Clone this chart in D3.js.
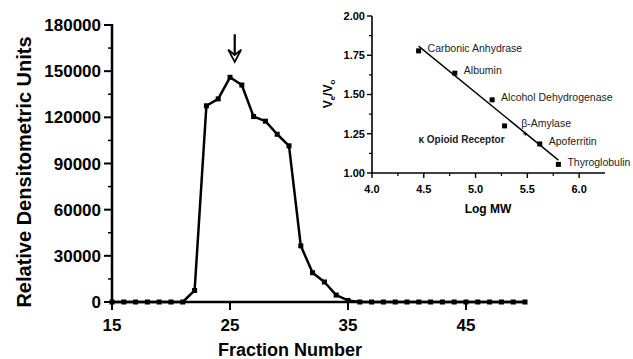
<!DOCTYPE html>
<html>
<head>
<meta charset="utf-8">
<script src="https://cdn.jsdelivr.net/npm/d3@7"></script>
<style>
  body { margin: 0; background: #fff; }
  svg { display: block; font-family: "Liberation Sans", Arial, Helvetica, sans-serif; }
</style>
</head>
<body>
<svg id="chart" width="633" height="359"></svg>
<script>
// Main chart: fraction number vs densitometric signal
const fractions = d3.range(15, 51);
const densities = [
  0, 0, 0, 0, 0, 0, 0,          // 15-21
  7500, 127500, 132000, 146000, 141000, 120500, 117500, 109000, 101500, // 22-30
  36500, 19000, 13000, 4500, 1000, // 31-35
  0, 0, 0, 0, 0, 0, 0, 0, 0, 0, 0, 0, 0, 0, 0 // 36-50
];
const yTicks = [0, 30000, 60000, 90000, 120000, 150000, 180000];
const xTicks = [15, 25, 35, 45];
const peakFraction = 25.4;

// Inset: calibration standards
const standards = ["Carbonic Anhydrase", "Albumin", "Alcohol Dehydrogenase", "\u03b2-Amylase", "Apoferritin", "Thyroglobulin"];
const logMW = [4.45, 4.80, 5.16, 5.48, 5.62, 5.80];
const veVo = [1.778, 1.636, 1.466, 1.25, 1.185, 1.055];
const receptorLogMW = 5.28;
const receptorVeVo = 1.30;
const insetXTicks = [4.0, 4.5, 5.0, 5.5, 6.0];
const insetYTicks = [1.00, 1.25, 1.50, 1.75, 2.00];

const svg = d3.select("#chart");

// ---------- main plot ----------
const x = d3.scaleLinear().domain([15, 50]).range([112, 525]);
const y = d3.scaleLinear().domain([0, 180000]).range([302, 25]);

const g = svg.append("g");

// y axis
g.append("line").attr("x1", x(15)).attr("x2", x(15)).attr("y1", y(0) + 1).attr("y2", y(180000) - 1)
  .attr("stroke", "#000").attr("stroke-width", 2.5);
g.selectAll(".ymin").data(d3.range(15000, 180000, 30000)).enter().append("line")
  .attr("x1", x(15) - 4).attr("x2", x(15)).attr("y1", d => y(d)).attr("y2", d => y(d))
  .attr("stroke", "#000").attr("stroke-width", 1.5);
g.selectAll(".ymaj").data(yTicks).enter().append("line")
  .attr("x1", x(15) - 8).attr("x2", x(15)).attr("y1", d => y(d)).attr("y2", d => y(d))
  .attr("stroke", "#000").attr("stroke-width", 2);
g.selectAll(".ylab").data(yTicks).enter().append("text")
  .attr("x", x(15) - 11).attr("y", d => y(d)).attr("dy", "0.36em")
  .attr("text-anchor", "end").attr("font-size", 17).attr("font-weight", "bold")
  .text(d => d);

// x axis
g.append("line").attr("x1", x(15) - 1).attr("x2", x(50)).attr("y1", y(0)).attr("y2", y(0))
  .attr("stroke", "#000").attr("stroke-width", 2.5);
g.selectAll(".xmaj").data(xTicks).enter().append("line")
  .attr("x1", d => x(d)).attr("x2", d => x(d)).attr("y1", y(0)).attr("y2", y(0) + 8)
  .attr("stroke", "#000").attr("stroke-width", 2);
g.selectAll(".xlab").data(xTicks).enter().append("text")
  .attr("x", d => x(d)).attr("y", 331)
  .attr("text-anchor", "middle").attr("font-size", 17).attr("font-weight", "bold")
  .text(d => d);

// axis titles
g.append("text").attr("x", 290).attr("y", 356).attr("text-anchor", "middle")
  .attr("font-size", 18).attr("font-weight", "bold").text("Fraction Number");
g.append("text").attr("transform", "translate(31,172) rotate(-90)").attr("text-anchor", "middle")
  .attr("font-size", 20).attr("font-weight", "bold").text("Relative Densitometric Units");

// data line and markers
const line = d3.line().x((d, i) => x(fractions[i])).y(d => y(d));
g.append("path").datum(densities).attr("d", line)
  .attr("fill", "none").attr("stroke", "#000").attr("stroke-width", 2.5).attr("stroke-linejoin", "round");
g.selectAll(".pt").data(densities).enter().append("rect")
  .attr("x", (d, i) => x(fractions[i]) - 2.5).attr("y", d => y(d) - 2.5)
  .attr("width", 5).attr("height", 5).attr("fill", "#000");

// peak arrow
const ax = x(peakFraction);
g.append("line").attr("x1", ax).attr("x2", ax).attr("y1", y(174000)).attr("y2", y(159000))
  .attr("stroke", "#000").attr("stroke-width", 2.2);
g.append("path")
  .attr("d", `M${ax - 6.5},${y(164000)} L${ax},${y(156000)} L${ax + 6.5},${y(164000)} L${ax},${y(160500)} Z`)
  .attr("fill", "#fff").attr("stroke", "#000").attr("stroke-width", 1.8).attr("stroke-linejoin", "miter");

// ---------- inset ----------
const ix = d3.scaleLinear().domain([4.0, 6.25]).range([372, 605]);
const iy = d3.scaleLinear().domain([1.0, 2.0]).range([173, 16]);
const ig = svg.append("g");

ig.append("line").attr("x1", ix(4)).attr("x2", ix(4)).attr("y1", iy(1) + 1).attr("y2", iy(2))
  .attr("stroke", "#000").attr("stroke-width", 1.6);
ig.append("line").attr("x1", ix(4) - 1).attr("x2", ix(6.25)).attr("y1", iy(1)).attr("y2", iy(1))
  .attr("stroke", "#000").attr("stroke-width", 1.6);
ig.selectAll(".iym").data(d3.range(1.125, 2, 0.25)).enter().append("line")
  .attr("x1", ix(4) - 3).attr("x2", ix(4)).attr("y1", d => iy(d)).attr("y2", d => iy(d))
  .attr("stroke", "#000").attr("stroke-width", 1.2);
ig.selectAll(".iyt").data(insetYTicks).enter().append("line")
  .attr("x1", ix(4) - 5).attr("x2", ix(4)).attr("y1", d => iy(d)).attr("y2", d => iy(d))
  .attr("stroke", "#000").attr("stroke-width", 1.4);
ig.selectAll(".iyl").data(insetYTicks).enter().append("text")
  .attr("x", ix(4) - 7).attr("y", d => iy(d)).attr("dy", "0.36em").attr("text-anchor", "end")
  .attr("font-size", 11).attr("font-weight", "bold").text(d => d.toFixed(2));
ig.selectAll(".ixm").data(d3.range(4.25, 6.25, 0.5)).enter().append("line")
  .attr("x1", d => ix(d)).attr("x2", d => ix(d)).attr("y1", iy(1)).attr("y2", iy(1) + 3)
  .attr("stroke", "#000").attr("stroke-width", 1.2);
ig.selectAll(".ixt").data(insetXTicks).enter().append("line")
  .attr("x1", d => ix(d)).attr("x2", d => ix(d)).attr("y1", iy(1)).attr("y2", iy(1) + 5)
  .attr("stroke", "#000").attr("stroke-width", 1.4);
ig.selectAll(".ixl").data(insetXTicks).enter().append("text")
  .attr("x", d => ix(d)).attr("y", 193).attr("text-anchor", "middle")
  .attr("font-size", 11).attr("font-weight", "bold").text(d => d.toFixed(1));

ig.append("text").attr("x", 488).attr("y", 213).attr("text-anchor", "middle")
  .attr("font-size", 12).attr("font-weight", "bold").text("Log MW");
const yl = ig.append("text").attr("transform", "translate(332,94) rotate(-90)").attr("text-anchor", "middle")
  .attr("font-size", 12).attr("font-weight", "bold");
yl.append("tspan").text("V");
yl.append("tspan").attr("font-size", 8).attr("dy", 3).text("e");
yl.append("tspan").attr("dy", -3).text("/V");
yl.append("tspan").attr("font-size", 8).attr("dy", 3).text("o");

// least-squares fit of the standards
const mx = d3.mean(logMW), my = d3.mean(veVo);
const slope = d3.sum(logMW, (d, i) => (d - mx) * (veVo[i] - my)) / d3.sum(logMW, d => (d - mx) * (d - mx));
const icpt = my - slope * mx;
const x0 = d3.min(logMW), x1 = d3.max(logMW);
ig.append("line").attr("x1", ix(x0)).attr("y1", iy(icpt + slope * x0))
  .attr("x2", ix(x1)).attr("y2", iy(icpt + slope * x1))
  .attr("stroke", "#000").attr("stroke-width", 1.4);

// standard markers (beta-amylase drawn as a small cross on the line)
standards.forEach((name, i) => {
  const px = ix(logMW[i]), py = iy(veVo[i]);
  if (i === 3) {
    ig.append("path").attr("d", `M${px - 2},${py} L${px + 2},${py} M${px},${py - 2} L${px},${py + 2}`)
      .attr("stroke", "#000").attr("stroke-width", 1);
    ig.append("text").attr("x", px - 4).attr("y", py - 10).attr("dy", "0.35em")
      .attr("font-size", 10.5).attr("fill", "#222").text(name);
  } else {
    ig.append("rect").attr("x", px - 2.5).attr("y", py - 2.5).attr("width", 5).attr("height", 5).attr("fill", "#000");
    ig.append("text").attr("x", px + 9).attr("y", py - 2.5).attr("dy", "0.35em")
      .attr("font-size", 10.5).attr("fill", "#222").text(name);
  }
});

// receptor point
const rx = ix(receptorLogMW), ry = iy(receptorVeVo);
ig.append("rect").attr("x", rx - 2.5).attr("y", ry - 2.5).attr("width", 5).attr("height", 5).attr("fill", "#000");
ig.append("text").attr("x", rx).attr("y", ry + 14).attr("dy", "0.35em").attr("text-anchor", "end")
  .attr("font-size", 10).attr("font-weight", "bold").attr("fill", "#222").text("\u03ba Opioid Receptor");
</script>
</body>
</html>
